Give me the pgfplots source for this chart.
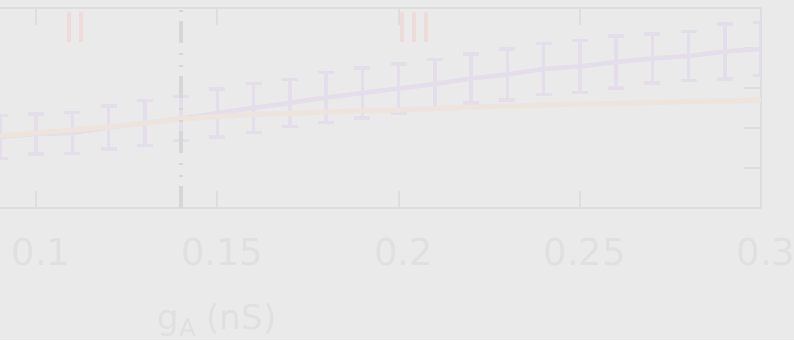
\documentclass[border=0pt]{standalone}
\usepackage{pgfplots}
\pgfplotsset{compat=1.18}
\usepackage{fontspec}
\setmainfont{DejaVu Sans}

\definecolor{bg}{HTML}{EAEAEA}
\definecolor{frame}{HTML}{DEDEDE}
\definecolor{ticktext}{HTML}{E0E0E0}
\definecolor{purp}{HTML}{E3DEEA}
\definecolor{peach}{HTML}{EDE4DE}
\definecolor{redlab}{HTML}{EDDBDA}
\definecolor{vgray}{HTML}{D6D6D6}

\begin{document}
\begin{tikzpicture}[x=1pt,y=1pt]
\fill[bg] (0,0) rectangle (794,340);
\begin{axis}[
  at={(-36.5pt,132pt)}, anchor=south west,
  scale only axis, width=797.5pt, height=200pt,
  xmin=0.08, xmax=0.3, ymin=0, ymax=1,
  xtick={0.1,0.15,0.2,0.25,0.3},
  xticklabels={0.1,0.15,0.2,0.25,0.3},
  ytick={0,0.2,0.4,0.6,0.8,1}, yticklabels={},
  tick align=inside, major tick length=17pt,
  every tick/.style={frame, line width=2pt},
  axis line style={frame, line width=2pt},
  /pgf/number format/assume math mode=true,
  xticklabel style={font=\fontsize{37}{40}\selectfont, text=ticktext,
    anchor=base, yshift=-57pt, xshift=5pt},
  xlabel={g\raisebox{-0.22em}{\fontsize{24}{26}\selectfont A} (nS)},
  xlabel style={at={(rel axis cs:0.318,0)}, anchor=base, yshift=-121pt,
    font=\fontsize{34}{37}\selectfont, text=ticktext},
]

% mean with spread
\addplot[purp, line width=4.5pt, no markers,
  error bars/.cd, y dir=both, y explicit,
  error bar style={line width=3.5pt, purp},
  error mark options={rotate=90, mark size=8pt, line width=3.5pt, purp}]
table[x=x, y=y, y error=e] {
x     y       e
0.09  0.355   0.1075
0.10  0.370   0.100
0.11  0.375   0.1025
0.12  0.4025  0.1075
0.13  0.425   0.1125
0.14  0.4475  0.110
0.15  0.475   0.120
0.16  0.500   0.1225
0.17  0.525   0.1175
0.18  0.5525  0.125
0.19  0.575   0.125
0.20  0.5975  0.1225
0.21  0.620   0.1225
0.22  0.6475  0.1225
0.23  0.6675  0.1275
0.24  0.695   0.1275
0.25  0.7075  0.130
0.26  0.730   0.130
0.27  0.7475  0.1225
0.28  0.760   0.1225
0.29  0.7825  0.1375
0.30  0.795   0.1325
};

% second curve
\addplot[peach, line width=5pt, no markers] table {
0.09  0.360
0.10  0.375
0.11  0.390
0.12  0.405
0.13  0.425
0.14  0.445
0.15  0.4575
0.16  0.4675
0.17  0.4725
0.18  0.480
0.19  0.485
0.20  0.490
0.21  0.4975
0.22  0.505
0.23  0.510
0.24  0.515
0.25  0.520
0.26  0.5225
0.27  0.5275
0.28  0.5325
0.29  0.535
0.30  0.540
};

% region boundary
\addplot[vgray, line width=4pt,
  dash pattern=on 22pt off 9pt on 2pt off 10pt on 2pt off 10pt]
  coordinates {(0.14,0) (0.14,1)};

\node[font=\fontsize{41}{44}\selectfont, text=redlab, anchor=base]
  at (axis cs:0.1108,0.825) {II};
\node[font=\fontsize{41}{44}\selectfont, text=redlab, anchor=base]
  at (axis cs:0.2045,0.825) {III};
\end{axis}
\pgfresetboundingbox
\useasboundingbox (0,0) rectangle (794,340);
\end{tikzpicture}
\end{document}
